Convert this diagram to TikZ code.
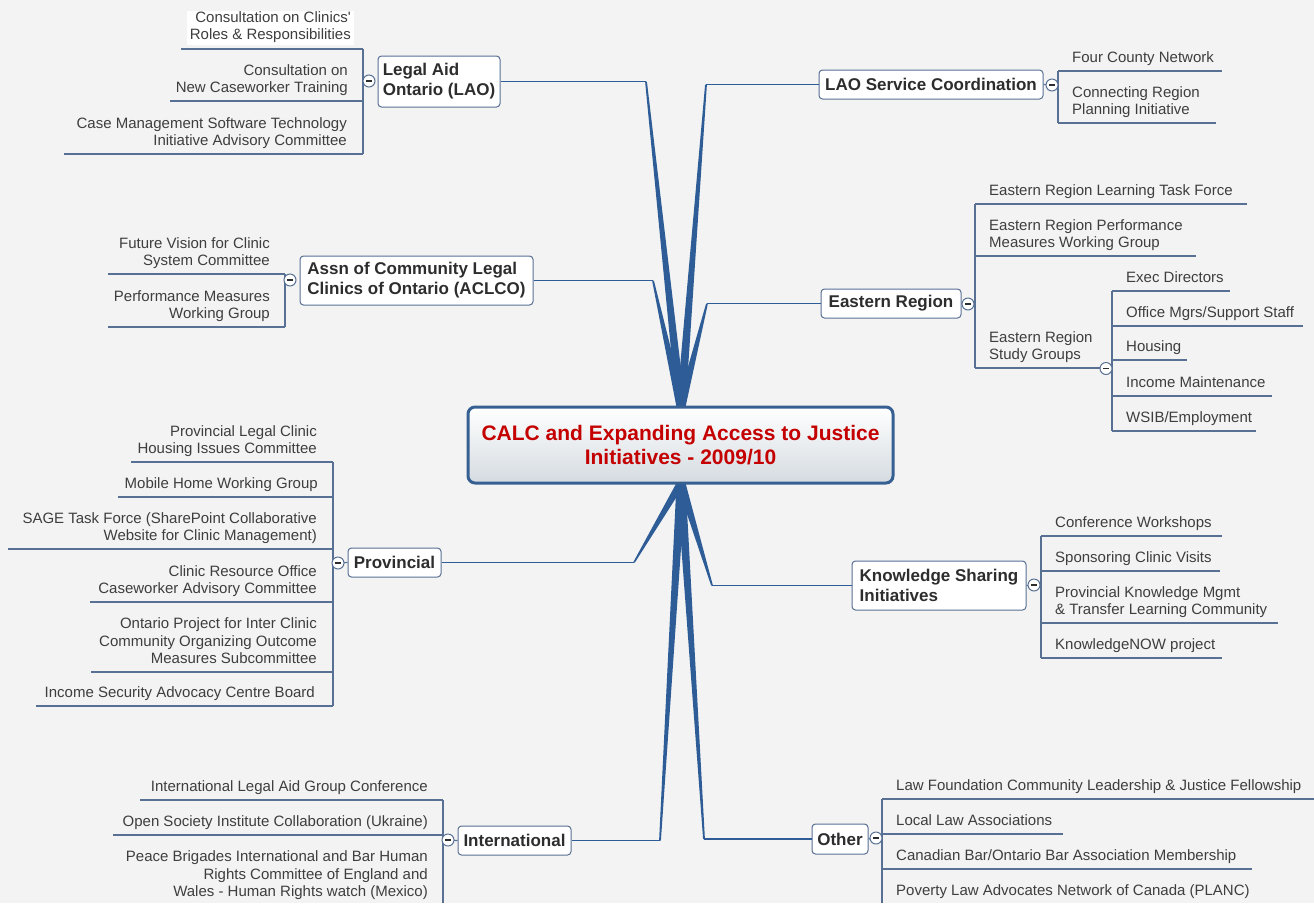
\documentclass[tikz,border=0pt]{standalone}
\usepackage{fontspec}
\setmainfont{Liberation Sans}
\definecolor{bg}{RGB}{243,243,243}
\definecolor{ln}{RGB}{88,112,148}
\definecolor{wd}{RGB}{46,92,150}
\definecolor{txt}{RGB}{62,62,62}
\definecolor{ttl}{RGB}{45,45,45}
\definecolor{redtext}{RGB}{196,0,0}
\definecolor{cborder}{RGB}{55,96,146}
\definecolor{cbottom}{RGB}{212,219,224}
\newcommand\itf{\fontsize{15}{17.5}\selectfont}
\newcommand\tpf{\fontsize{17}{20}\selectfont\bfseries}
\newcommand\ctf{\fontsize{21}{24}\selectfont\bfseries}
\tikzset{
 itemL/.style={font=\itf, text=txt, align=right, anchor=south east, inner sep=0pt, execute at end node=\strut},
 itemR/.style={font=\itf, text=txt, align=left, anchor=south west, inner sep=0pt, execute at end node=\strut},
 topic/.style={draw=ln, fill=white, rounded corners=3.5pt, line width=1pt, font=\tpf, text=ttl, align=left, inner sep=0pt},
 uline/.style={draw=ln, line width=1.2pt},
 branch/.style={draw=wd, line width=1.4pt},
 wedgef/.style={fill=wd},
 collapse/.style={circle, draw=ln, fill=white, line width=1pt, minimum size=12pt, inner sep=0pt, text=ttl},
 centerbox/.style={draw=cborder, line width=3pt, rounded corners=7pt, top color=white, bottom color=cbottom, align=center, font=\ctf, text=redtext, inner sep=0pt}
}
\newcommand\wedgeto[2]{\fill[wedgef] ([xshift=-4.5pt]#1) -- ([xshift=-0.9pt]#2) -- ([xshift=0.9pt]#2) -- ([xshift=4.5pt]#1) -- cycle;}
\newcommand\minussign{\rule[-0.6pt]{6pt}{1.2pt}}
\begin{document}
\begin{tikzpicture}[x=1pt,y=-1pt]
\fill[bg] (0,0) rectangle (1314,903);
\useasboundingbox (0,0) rectangle (1314,903);

% topic nodes
\node[topic, minimum width=122, minimum height=51] (lao) at (439,81.5) {Legal Aid\\Ontario (LAO)};
\node[topic, minimum width=224, minimum height=29] (lsc) at (931,84.5) {LAO Service Coordination};
\node[topic, minimum width=233, minimum height=49] (acl) at (416.5,280.5) {Assn of Community Legal\\Clinics of Ontario (ACLCO)};
\node[topic, minimum width=140, minimum height=29] (eas) at (891,303.5) {Eastern Region};
\node[topic, minimum width=93, minimum height=29] (pro) at (394.5,562.5) {Provincial};
\node[topic, minimum width=174, minimum height=49] (kno) at (939,585.5) {Knowledge Sharing\\Initiatives};
\node[topic, minimum width=113, minimum height=29] (int) at (514.5,840.5) {International};
\node[topic, minimum width=56, minimum height=30] (oth) at (840,839) {Other};

% centre anchors and bends
\coordinate (ctop) at (681,407);
\coordinate (cbot) at (681,483);
\coordinate (bLAO) at (646,81.5);
\coordinate (bLSC) at (706,84.5);
\coordinate (bACL) at (653,280.5);
\coordinate (bEAS) at (707,303.5);
\coordinate (bPRO) at (634,562.5);
\coordinate (bKNO) at (712,585.5);
\coordinate (bINT) at (660,840.5);
\coordinate (bOTH) at (704,839);

\wedgeto{ctop}{bLAO}
\wedgeto{ctop}{bLSC}
\wedgeto{ctop}{bACL}
\wedgeto{ctop}{bEAS}
\wedgeto{cbot}{bPRO}
\wedgeto{cbot}{bKNO}
\wedgeto{cbot}{bINT}
\wedgeto{cbot}{bOTH}
\draw[branch] (bLAO) -- (lao.east);
\draw[branch] (bLSC) -- (lsc.west);
\draw[branch] (bACL) -- (acl.east);
\draw[branch] (bEAS) -- (eas.west);
\draw[branch] (bPRO) -- (pro.east);
\draw[branch] (bKNO) -- (kno.west);
\draw[branch] (bINT) -- (int.east);
\draw[branch] (bOTH) -- (oth.west);

\node[centerbox, minimum width=425, minimum height=76] (center) at (680.5,445) {CALC and Expanding Access to Justice\\Initiatives - 2009/10};

% ---------- Legal Aid Ontario ----------
\node[itemL, fill=white, inner xsep=3pt] (l1) at (354,45) {Consultation on Clinics\textquotesingle\\Roles \& Responsibilities};
\node[itemL] (l2) at (348,98) {Consultation on\\New Caseworker Training};
\node[itemL] (l3) at (347,151) {Case Management Software Technology\\Initiative Advisory Committee};
\draw[uline] (181,49) -- (363,49);
\draw[uline] (170,101) -- (363,101);
\draw[uline] (64,154) -- (363,154);
\draw[uline] (363,49) -- (363,154);
\node[collapse] (cLAO) at (369,81) {\minussign};

% ---------- LAO Service Coordination ----------
\node[itemR] (r1) at (1072,68) {Four County Network};
\node[itemR] (r2) at (1072,120) {Connecting Region\\Planning Initiative};
\draw[uline] (1058,71) -- (1222,71);
\draw[uline] (1058,123) -- (1216,123);
\draw[uline] (1058,71) -- (1058,123);
\draw[uline] (lsc.east) -- (1052,85);
\node[collapse] (cLSC) at (1052,85) {\minussign};

% ---------- ACLCO ----------
\node[itemL] (a1) at (270,271) {Future Vision for Clinic\\System Committee};
\node[itemL] (a2) at (270,324) {Performance Measures\\Working Group};
\draw[uline] (108,274) -- (285,274);
\draw[uline] (108,327) -- (285,327);
\draw[uline] (285,274) -- (285,327);
\node[collapse] (cACL) at (290,280) {\minussign};

% ---------- Eastern Region ----------
\node[itemR] (e1) at (989,201) {Eastern Region Learning Task Force};
\node[itemR] (e2) at (989,253) {Eastern Region Performance\\Measures Working Group};
\node[itemR] (e3) at (989,365) {Eastern Region\\Study Groups};
\draw[uline] (975,204) -- (1247,204);
\draw[uline] (975,256) -- (1196,256);
\draw[uline] (975,368) -- (1106,368);
\draw[uline] (975,204) -- (975,368);
\draw[uline] (eas.east) -- (968,304);
\node[collapse] (cEAS) at (968,304) {\minussign};

\node[itemR] (s1) at (1126,288) {Exec Directors};
\node[itemR] (s2) at (1126,323) {Office Mgrs/Support Staff};
\node[itemR] (s3) at (1126,357) {Housing};
\node[itemR] (s4) at (1126,393) {Income Maintenance};
\node[itemR] (s5) at (1126,428) {WSIB/Employment};
\draw[uline] (1112,291) -- (1230,291);
\draw[uline] (1112,326) -- (1303,326);
\draw[uline] (1112,360) -- (1187,360);
\draw[uline] (1112,396) -- (1272,396);
\draw[uline] (1112,431) -- (1256,431);
\draw[uline] (1112,291) -- (1112,431);
\node[collapse] (cSTU) at (1106,368.5) {\minussign};

% ---------- Provincial ----------
\node[itemL] (p1) at (317,459) {Provincial Legal Clinic\\Housing Issues Committee};
\node[itemL] (p2) at (318,494) {Mobile Home Working Group};
\node[itemL] (p3) at (317,546) {SAGE Task Force (SharePoint Collaborative\\Website for Clinic Management)};
\node[itemL] (p4) at (317,599) {Clinic Resource Office\\Caseworker Advisory Committee};
\node[itemL] (p5) at (317,669) {Ontario Project for Inter Clinic\\Community Organizing Outcome\\Measures Subcommittee};
\node[itemL] (p6) at (315,703) {Income Security Advocacy Centre Board};
\draw[uline] (131,462) -- (333,462);
\draw[uline] (118,497) -- (333,497);
\draw[uline] (8,549) -- (333,549);
\draw[uline] (90,602) -- (333,602);
\draw[uline] (91,672) -- (333,672);
\draw[uline] (36,706) -- (333,706);
\draw[uline] (333,462) -- (333,706);
\draw[uline] (pro.west) -- (338,563);
\node[collapse] (cPRO) at (338,563) {\minussign};

% ---------- Knowledge Sharing ----------
\node[itemR] (k1) at (1055,533) {Conference Workshops};
\node[itemR] (k2) at (1055,568) {Sponsoring Clinic Visits};
\node[itemR] (k3) at (1055,620) {Provincial Knowledge Mgmt\\\& Transfer Learning Community};
\node[itemR] (k4) at (1055,655) {KnowledgeNOW project};
\draw[uline] (1041,536) -- (1222,536);
\draw[uline] (1041,571) -- (1220,571);
\draw[uline] (1041,623) -- (1278,623);
\draw[uline] (1041,658) -- (1222,658);
\draw[uline] (1041,536) -- (1041,658);
\draw[uline] (kno.east) -- (1034,585);
\node[collapse] (cKNO) at (1034,585) {\minussign};

% ---------- International ----------
\node[itemL] (i1) at (428,797) {International Legal Aid Group Conference};
\node[itemL] (i2) at (428,832) {Open Society Institute Collaboration (Ukraine)};
\node[itemL] (i3) at (428,902) {Peace Brigades International and Bar Human\\Rights Committee of England and\\Wales - Human Rights watch (Mexico)};
\draw[uline] (140,800) -- (443,800);
\draw[uline] (113,835) -- (443,835);
\draw[uline] (443,800) -- (443,903);
\draw[uline] (int.west) -- (448,840);
\node[collapse] (cINT) at (448,840) {\minussign};

% ---------- Other ----------
\node[itemR] (o1) at (896,796) {Law Foundation Community Leadership \& Justice Fellowship};
\node[itemR] (o2) at (896,831) {Local Law Associations};
\node[itemR] (o3) at (896,866) {Canadian Bar/Ontario Bar Association Membership};
\node[itemR] (o4) at (896,901) {Poverty Law Advocates Network of Canada (PLANC)};
\draw[uline] (882,799) -- (1314,799);
\draw[uline] (882,834) -- (1063,834);
\draw[uline] (882,869) -- (1252,869);
\draw[uline] (882,799) -- (882,903);
\draw[uline] (oth.east) -- (876,838);
\node[collapse] (cOTH) at (876,838) {\minussign};
\end{tikzpicture}
\end{document}
